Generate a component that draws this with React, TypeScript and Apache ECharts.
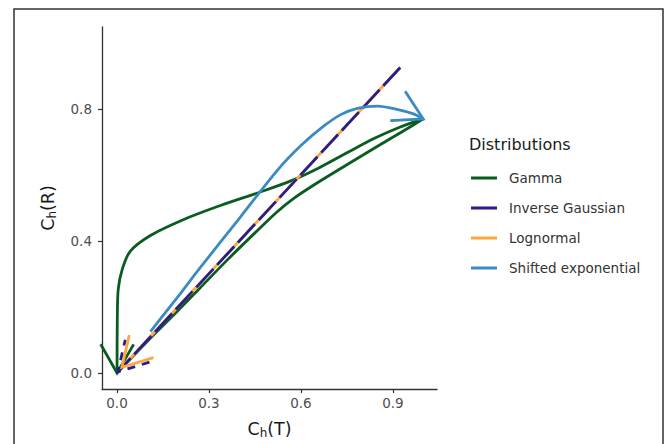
import React, { useEffect, useRef } from "react";
import * as echarts from "echarts";

const seriesNames = ["Gamma", "Inverse Gaussian", "Lognormal", "Shifted exponential"];
const palette = ["#0a5c1f", "#2b1d8c", "#ffa63d", "#3b8bc2"];

const xTicks = [0, 0.3, 0.6, 0.9];
const yTicks = [0, 0.4, 0.8];

// Gamma: out along the lower branch, back along the upper branch (arrow at origin)
const gammaOut: number[][] = [
  [0, 0], [0.1, 0.097], [0.2, 0.19], [0.27, 0.257], [0.36, 0.343], [0.45, 0.425],
  [0.52, 0.487], [0.58, 0.532], [0.65, 0.575], [0.75, 0.632], [0.85, 0.688], [0.93, 0.732], [0.999, 0.771],
];
const gammaBack: number[][] = [
  [0.999, 0.771], [0.92, 0.745], [0.84, 0.712], [0.75, 0.668], [0.66, 0.623], [0.565, 0.582],
  [0.467, 0.549], [0.337, 0.508], [0.216, 0.465], [0.109, 0.417], [0.043, 0.369], [0.017, 0.314],
  [0.004, 0.254], [0.001, 0.17], [0, 0],
];
const invGauss: number[][] = [[0.924, 0.927], [0.003, 0.003]];
const lognormal: number[][] = [[0.924, 0.927], [0.016, 0.017]];
const shiftedExp: number[][] = [
  [0.109, 0.125], [0.206, 0.24], [0.272, 0.32], [0.4, 0.47], [0.523, 0.615], [0.6, 0.69],
  [0.673, 0.748], [0.73, 0.784], [0.784, 0.803], [0.85, 0.81], [0.91, 0.801], [0.965, 0.787], [0.999, 0.771],
];

const font = "'DejaVu Sans', Verdana, sans-serif";

export default function App() {
  const ref = useRef<HTMLDivElement>(null);
  useEffect(() => {
    document.body.style.margin = "0";
    const chart = echarts.init(ref.current!, null, { renderer: "svg" });
    const axisNameRich = {
      a: { fontSize: 17.5, color: "#1a1a1a", fontFamily: font, lineHeight: 21 },
      b: { fontSize: 12, color: "#1a1a1a", fontFamily: font, lineHeight: 12, verticalAlign: "bottom" },
    };
    const lineSeries = (name: string, data: number[][], color: string, extra: any = {}) => ({
      type: "line",
      name,
      data,
      showSymbol: false,
      symbol: "none",
      silent: true,
      smooth: 0.3,
      lineStyle: { color, width: 2.8, cap: "butt", ...(extra.lineStyle || {}) },
      itemStyle: { color },
      z: extra.z ?? 2,
    });
    const option: any = {
      animation: false,
      backgroundColor: "#ffffff",
      title: {
        text: "Distributions",
        left: 469,
        top: 136,
        padding: 0,
        textStyle: { fontSize: 16, fontWeight: "normal", color: "#1a1a1a", fontFamily: font },
      },
      legend: {
        data: seriesNames,
        orient: "vertical",
        left: 471,
        top: 171,
        padding: 0,
        icon: "rect",
        itemWidth: 26,
        itemHeight: 3,
        itemGap: 16,
        selectedMode: false,
        itemStyle: { borderWidth: 0 },
        textStyle: { fontSize: 13.5, color: "#333333", fontFamily: font, padding: [0, 0, 0, 7] },
      },
      grid: { left: 102, right: 232, top: 27, bottom: 51, containLabel: false },
      xAxis: {
        type: "value",
        min: -0.049,
        max: 1.044,
        splitLine: { show: false },
        axisLine: { show: true, onZero: false, lineStyle: { color: "#333333", width: 1.3 } },
        axisTick: { show: true, customValues: xTicks, length: 4, lineStyle: { color: "#333333", width: 1.2 } },
        axisLabel: {
          customValues: xTicks,
          formatter: (v: number) => v.toFixed(1),
          color: "#4d4d4d",
          fontSize: 13.5,
          fontFamily: font,
          margin: 7,
        },
        name: "{a|C}{b|h}{a|(T)}",
        nameLocation: "middle",
        nameGap: 29,
        nameTextStyle: { rich: axisNameRich },
      },
      yAxis: {
        type: "value",
        min: -0.049,
        max: 1.05,
        splitLine: { show: false },
        axisLine: { show: true, onZero: false, lineStyle: { color: "#333333", width: 1.3 } },
        axisTick: { show: true, customValues: yTicks, length: 4, lineStyle: { color: "#333333", width: 1.2 } },
        axisLabel: {
          customValues: yTicks,
          formatter: (v: number) => v.toFixed(1),
          color: "#4d4d4d",
          fontSize: 13.5,
          fontFamily: font,
          margin: 10,
        },
        name: "{a|C}{b|h}{a|(R)}",
        nameLocation: "middle",
        nameGap: 44,
        nameTextStyle: { rich: axisNameRich },
      },
      series: [
        lineSeries("Gamma", gammaOut, palette[0]),
        lineSeries("Gamma", gammaBack, palette[0]),
        lineSeries("Lognormal", lognormal, palette[2], { z: 3 }),
        lineSeries("Inverse Gaussian", invGauss, palette[1], { z: 4, lineStyle: { type: [25, 5.5] } }),
        lineSeries("Shifted exponential", shiftedExp, palette[3], { z: 5 }),
      ],
    };
    chart.setOption(option);

    const arrow = (id: string, path: number[][], color: string, z: number, dash?: number[]) => {
      const n = path.length;
      const tip = chart.convertToPixel({ gridIndex: 0 }, path[n - 1]) as number[];
      const prev = chart.convertToPixel({ gridIndex: 0 }, path[n - 2]) as number[];
      const ang = Math.atan2(prev[1] - tip[1], prev[0] - tip[0]);
      const L = 33;
      const a = Math.PI / 6;
      const w1 = [tip[0] + L * Math.cos(ang + a), tip[1] + L * Math.sin(ang + a)];
      const w2 = [tip[0] + L * Math.cos(ang - a), tip[1] + L * Math.sin(ang - a)];
      return {
        id,
        type: "polyline",
        silent: true,
        z,
        shape: { points: [w1, tip, w2] },
        style: { stroke: color, lineWidth: 2.8, fill: null, lineDash: dash || null, lineCap: "butt", lineJoin: "miter" },
      };
    };

    chart.setOption({
      graphic: [
        {
          id: "border",
          type: "rect",
          silent: true,
          z: 0,
          shape: { x: 14, y: 9, width: 649, height: 470 },
          style: { fill: null, stroke: "#333333", lineWidth: 1.5 },
        },
        arrow("gammaArrow", gammaBack, palette[0], 1),
        arrow("igArrow", invGauss, palette[1], 6, [8, 7]),
        arrow("lnArrow", lognormal, palette[2], 7),
        arrow("seArrow", shiftedExp, palette[3], 8),
      ],
    });

    return () => {
      chart.dispose();
    };
  }, []);
  return <div ref={ref} style={{ position: "fixed", left: 0, top: 0, width: 669, height: 444 }} />;
}
